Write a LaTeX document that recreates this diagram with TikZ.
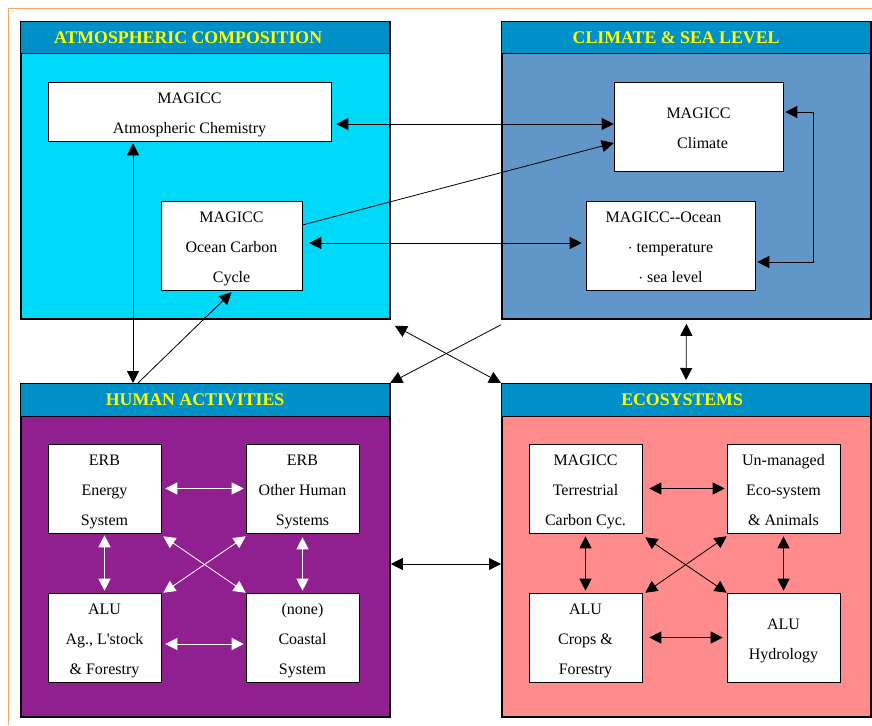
\documentclass[tikz,border=0pt]{standalone}
\usepackage{fontspec}
\setmainfont{Liberation Serif}[Ligatures=TeXOff]
\usetikzlibrary{arrows.meta}

\definecolor{headblue}{HTML}{0090C8}
\definecolor{atmcyan}{HTML}{00D8F8}
\definecolor{climblue}{HTML}{6096C8}
\definecolor{humpurple}{HTML}{902090}
\definecolor{ecopink}{HTML}{FF8C8C}
\definecolor{titleyellow}{HTML}{FFFF00}
\definecolor{frameorange}{HTML}{F8A468}

\tikzset{
  panel/.style={draw=black, line width=1.8pt, minimum width=369pt, anchor=north west, inner sep=0pt},
  header/.style={draw=black, fill=headblue, line width=1.2pt, minimum width=369pt, anchor=north west, inner sep=0pt},
  title/.style={text=titleyellow, inner sep=0pt, font=\fontsize{17.8}{20}\selectfont\bfseries},
  model/.style={draw=black, fill=white, line width=0.6pt, align=center, inner sep=0pt,
    font=\fontsize{16}{30}\selectfont, text height=79pt, text depth=5pt},
  twoline/.style={text height=49pt},
  link/.style={line width=0.8pt, {Triangle[length=12pt,width=12pt]}-{Triangle[length=12pt,width=12pt]}},
  oneway/.style={line width=0.8pt, -{Triangle[length=12pt,width=12pt]}},
  wlink/.style={link, draw=white, fill=white}
}

\begin{document}
\begin{tikzpicture}[x=1pt, y=-1pt]
  \useasboundingbox (0,0) rectangle (872,725);
  % page frame
  \draw[frameorange, line width=1pt] (8,725) -- (8,9) -- (872,9);

  % the four panels
  \node[panel, fill=atmcyan, minimum height=297pt] (atm) at (20,21) {};
  \node[header, minimum height=32pt] (atmhead) at (20,21) {};
  \node[title] (atmtitle) at ([xshift=-17pt]atmhead.center) {ATMOSPHERIC COMPOSITION};
  \node[panel, fill=climblue, minimum height=297pt] (clim) at (501,21) {};
  \node[header, minimum height=32pt] (climhead) at (501,21) {};
  \node[title] (climtitle) at ([xshift=-10pt]climhead.center) {CLIMATE \& SEA LEVEL};
  \node[panel, fill=humpurple, minimum height=333pt] (hum) at (20,383) {};
  \node[header, minimum height=33pt] (humhead) at (20,383) {};
  \node[title] (humtitle) at ([xshift=-10pt]humhead.center) {HUMAN ACTIVITIES};
  \node[panel, fill=ecopink, minimum height=333pt] (eco) at (501,383) {};
  \node[header, minimum height=33pt] (ecohead) at (501,383) {};
  \node[title] (ecotitle) at ([xshift=-4pt]ecohead.center) {ECOSYSTEMS};

  % atmospheric composition
  \node[model, twoline, minimum width=283pt, minimum height=59pt] (chem) at (189.5,111.5) {MAGICC\\Atmospheric Chemistry};
  \node[model, minimum width=141pt, minimum height=89pt] (carbon) at (231.5,245.5) {MAGICC\\Ocean Carbon\\Cycle};

  % climate and sea level
  \node[model, twoline, minimum width=169pt, minimum height=89pt] (climate) at (698.5,126.5) {MAGICC\\\hspace*{8pt}Climate};
  \node[model, minimum width=169pt, minimum height=89pt] (ocean) at (670.5,245.5) {MAGICC--Ocean\hspace*{14pt}\\$\cdot$ temperature\\$\cdot$ sea level};

  % human activities
  \node[model, minimum width=113pt, minimum height=89pt] (energy) at (104.5,488.5) {ERB\\Energy\\System};
  \node[model, minimum width=113pt, minimum height=89pt] (other) at (302.5,488.5) {ERB\\Other Human\\Systems};
  \node[model, minimum width=113pt, minimum height=89pt] (agri) at (104.5,637.5) {ALU\\Ag., L'stock\\\& Forestry};
  \node[model, minimum width=113pt, minimum height=89pt] (coast) at (302.5,637.5) {(none)\\Coastal\\System};

  % ecosystems
  \node[model, minimum width=113pt, minimum height=89pt] (terr) at (585.5,488.5) {MAGICC\\Terrestrial\\Carbon Cyc.};
  \node[model, minimum width=113pt, minimum height=89pt] (unman) at (783.5,488.5) {Un-managed\\Eco-system\\\& Animals};
  \node[model, minimum width=113pt, minimum height=89pt] (crops) at (585.5,637.5) {ALU\\Crops \&\\Forestry};
  \node[model, twoline, minimum width=113pt, minimum height=89pt] (hydro) at (783.5,637.5) {ALU\\Hydrology};

  % links at the top
  \draw[link] ([xshift=5pt]chem.east |- 0,124) -- (climate.west |- 0,124);
  \draw[oneway] (carbon.east |- 0,225) -- (climate.west |- 0,143);
  \draw[link] ([xshift=7pt]carbon.east |- 0,243) -- ([xshift=-4pt]ocean.west |- 0,243);
  \draw[link] ([xshift=2pt]climate.east |- 0,112) -- ++(28,0) |- ([xshift=2pt]ocean.east |- 0,262);

  % links between the panels
  \draw[link] (humhead.north -| 133,0) -- ([yshift=-2pt]chem.south -| 133,0);
  \draw[oneway] (humhead.north -| 138,0) -- ([yshift=-2pt]carbon.south);
  \draw[link] ([shift={(4pt,-6pt)}]atm.south east) -- (ecohead.north west);
  \draw[oneway] ([yshift=-5pt]clim.south west) -- (humhead.north east);
  \draw[link] ([yshift=-4pt]clim.south) -- ([yshift=3pt]ecohead.north);
  \draw[link] (hum.east |- 0,564) -- (eco.west |- 0,564);

  % links in human activities
  \draw[wlink] ([xshift=4pt]energy.east) -- ([xshift=-2pt]other.west);
  \draw[wlink] ([yshift=-2pt]energy.south) -- ([yshift=2pt]agri.north);
  \draw[wlink] ([yshift=-4pt]other.south) -- ([yshift=2pt]coast.north);
  \draw[wlink] ([xshift=4pt]agri.east |- 0,644) -- ([xshift=-2pt]coast.west |- 0,644);
  \draw[wlink] ([shift={(2pt,-3pt)}]energy.south east) -- (coast.north west);
  \draw[wlink] ([yshift=-3pt]other.south west) -- ([xshift=2pt]agri.north east);

  % links in ecosystems
  \draw[link] ([xshift=7pt]terr.east) -- ([xshift=-2pt]unman.west);
  \draw[link] ([yshift=-3pt]terr.south) -- ([yshift=2pt]crops.north);
  \draw[link] ([yshift=-3pt]unman.south) -- ([yshift=2pt]hydro.north);
  \draw[link] ([xshift=7pt]crops.east) -- ([xshift=-4pt]hydro.west);
  \draw[link] ([shift={(3pt,-4pt)}]terr.south east) -- (hydro.north west);
  \draw[link] ([yshift=-3pt]unman.south west) -- ([xshift=3pt]crops.north east);
\end{tikzpicture}
\end{document}
